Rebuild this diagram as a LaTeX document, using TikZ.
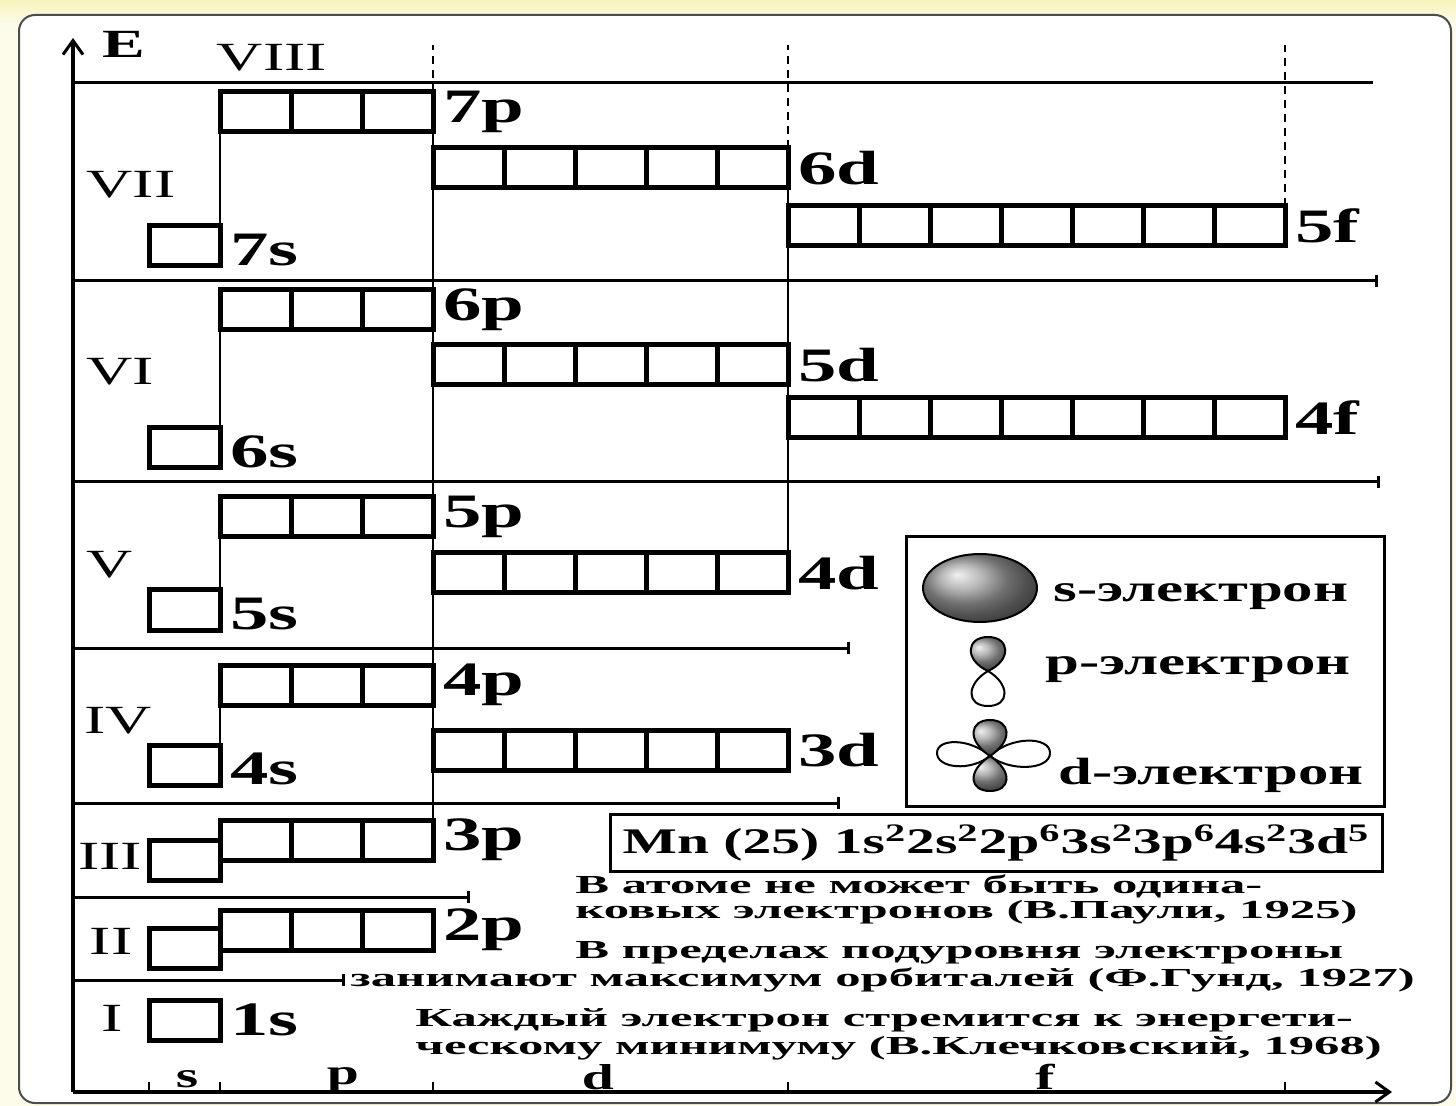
\documentclass[tikz,border=0pt]{standalone}
\usepackage{fontspec}
\setmainfont{Liberation Serif}[FakeStretch=1.6]
\newfontfamily\rulefont{Liberation Serif}[FakeStretch=1.95]
\usetikzlibrary{arrows.meta}

\definecolor{pagecream}{RGB}{253,252,234}
\definecolor{bandyellow}{RGB}{247,243,188}

\tikzset{
  cellrow/.style={draw, line width=2.5pt, minimum height=20pt, inner sep=0pt, outer sep=0pt, anchor=north west},
  cellline/.style={line width=2.5pt},
  link/.style={line width=1pt},
  level/.style={line width=1.5pt},
  levelend/.style={level, -{Bar[width=6pt,line width=1.5pt]}},
  guide/.style={line width=1.2pt, dash pattern=on 4pt off 3pt},
  axis/.style={line width=2pt},
  orb/.style={font=\fontsize{24}{26}\selectfont\bfseries, inner sep=5pt, anchor=west},
  period/.style={font=\fontsize{20}{22}\selectfont},
  sublabel/.style={font=\fontsize{18}{20}\selectfont\bfseries, anchor=base, inner sep=0pt},
  legendtxt/.style={font=\fontsize{19}{21}\selectfont\bfseries, inner sep=0pt, anchor=west},
  rule/.style={font=\rulefont\fontsize{13}{15}\selectfont\bfseries, inner sep=0pt, anchor=west},
  lobe/.style={line width=1pt, ball color=gray!75},
  openlobe/.style={line width=1pt, fill=white},
}

% row of #4 cells, 71 wide and 40 high, top left corner at (#2,#3)
\newcommand{\orbrow}[4]{%
  \node[cellrow, minimum width=#4*35.5pt] (#1) at (#2,#3) {};
  \foreach \k in {2,...,#4}
    \draw[cellline] (#1.north west) ++({(\k-1)*71},0) -- ++(0,40);
}

\begin{document}
\begin{tikzpicture}[x=0.5pt, y=-0.5pt]
  \useasboundingbox (0,0) rectangle (1456,1106);
  \fill[pagecream] (0,0) rectangle (1456,1106);
  \shade[top color=bandyellow, bottom color=pagecream] (0,0) rectangle (1456,24);
  \draw[gray!60!black, line width=1pt, fill=white, rounded corners=8pt] (19,15) rectangle (1451,1103);

  % axes
  \draw[axis, -{Straight Barb[length=7pt,width=10pt,line width=1.5pt]}] (73,1092) -- (73,38);
  \draw[axis, -{Straight Barb[length=7pt,width=10pt,line width=1.5pt]}] (73,1092) -- (1392,1092);
  \node[font=\fontsize{20}{22}\selectfont\bfseries] (E) at (124,44) {E};
  \foreach \x in {149,220,433,788,1285}
    \draw[line width=1.2pt] (\x,1092) -- (\x,1082);
  \node[sublabel] (axs) at (187,1087) {s};
  \node[sublabel] (axp) at (343,1084) {p};
  \node[sublabel] (axd) at (598,1089) {d};
  \node[sublabel] (axf) at (1045,1089) {f};

  % period boundaries
  \draw[level] (73,83) -- (1373,83);
  \draw[levelend] (73,281) -- (1378,281);
  \draw[levelend] (73,482) -- (1380,482);
  \draw[levelend] (73,648) -- (850,648);
  \draw[levelend] (73,803) -- (840,803);
  \draw[levelend] (73,897) -- (470,897);
  \draw[levelend] (73,980) -- (345,980);

  % period numbers
  \node[period] (pVIII) at (272,58) {VIII};
  \node[period] (pVII) at (131,185) {VII};
  \node[period] (pVI) at (120,372) {VI};
  \node[period] (pV) at (110,565) {V};
  \node[period] (pIV) at (118,721) {IV};
  \node[period] (pIII) at (110,856) {III};
  \node[period] (pII) at (111,941) {II};
  \node[period] (pI) at (112,1018) {I};

  % sublevels
  \node[cellrow, minimum width=35.5pt] (s7) at (149,226) {};
  \orbrow{p7}{220}{92}{3}
  \orbrow{d6}{433}{148}{5}
  \orbrow{f5}{788}{206}{7}

  \node[cellrow, minimum width=35.5pt] (s6) at (149,428) {};
  \orbrow{p6}{220}{290}{3}
  \orbrow{d5}{433}{345}{5}
  \orbrow{f4}{788}{398}{7}

  \node[cellrow, minimum width=35.5pt] (s5) at (149,590) {};
  \orbrow{p5}{220}{497}{3}
  \orbrow{d4}{433}{553}{5}

  \node[cellrow, minimum width=35.5pt] (s4) at (149,745) {};
  \orbrow{p4}{220}{665}{3}
  \orbrow{d3}{433}{730}{5}

  \node[cellrow, minimum width=35.5pt] (s3) at (149,840) {};
  \orbrow{p3}{220}{820}{3}

  \node[cellrow, minimum width=35.5pt] (s2) at (149,928) {};
  \orbrow{p2}{220}{910}{3}

  \node[cellrow, minimum width=35.5pt] (s1) at (149,1000) {};

  % filling order
  \foreach \n in {4,...,7}
    \draw[link] (s\n.north east) -- (p\n.south west);
  \draw[link] (p3.north east) -- (d3.south west);
  \foreach \n/\m in {3/4,4/5,5/6}
    \draw[link] (d\n.north west) -- (p\m.south east) (p\m.north east) -- (d\m.south west);
  \draw[link] (d6.north west) -- (p7.south east);
  \draw[link] (d4.north east) -- (f4.south west);
  \draw[link] (f4.north west) -- (d5.south east);
  \draw[link] (d5.north east) -- (f5.south west);
  \draw[link] (f5.north west) -- (d6.south east);

  \coordinate (top) at (0,45);
  \draw[guide] (p7.north east) -- (p7.north east |- top);
  \draw[guide] (d6.north east) -- (d6.north east |- top);
  \draw[guide] (f5.north east) -- (f5.north east |- top);

  % sublevel names
  \node[orb] (l7p) at (p7.east) {7p};
  \node[orb] (l6d) at (d6.east) {6d};
  \node[orb] (l5f) at (f5.east) {5f};
  \node[orb] (l7s) at ([yshift=-2pt]s7.east) {7s};
  \node[orb] (l6p) at (p6.east) {6p};
  \node[orb] (l5d) at (d5.east) {5d};
  \node[orb] (l4f) at (f4.east) {4f};
  \node[orb] (l6s) at ([yshift=-2pt]s6.east) {6s};
  \node[orb] (l5p) at (p5.east) {5p};
  \node[orb] (l4d) at (d4.east) {4d};
  \node[orb] (l5s) at ([yshift=-2pt]s5.east) {5s};
  \node[orb] (l4p) at (p4.east) {4p};
  \node[orb] (l3d) at (d3.east) {3d};
  \node[orb] (l4s) at ([yshift=-2pt]s4.east) {4s};
  \node[orb] (l3p) at (p3.east) {3p};
  \node[orb] (l2p) at (p2.east) {2p};
  \node[orb] (l1s) at (s1.east) {1s};

  % legend
  \node[draw, line width=1.5pt, minimum width=239pt, minimum height=135pt, anchor=north west] (legend) at (905,535) {};
  \shadedraw[lobe] (980,588) ellipse [x radius=57, y radius=34];
  \shadedraw[lobe] (988,671) .. controls (964,660) and (966,637) .. (988,637)
    .. controls (1010,637) and (1012,660) .. (988,671) -- cycle;
  \draw[openlobe] (988,671) .. controls (966,684) and (966,706) .. (988,706)
    .. controls (1010,706) and (1010,684) .. (988,671) -- cycle;
  \draw[openlobe] (990,756) .. controls (970,738) and (937,738) .. (937,753)
    .. controls (937,768) and (970,772) .. (990,756) -- cycle;
  \draw[openlobe] (990,756) .. controls (1010,736) and (1050,736) .. (1050,753)
    .. controls (1050,770) and (1010,772) .. (990,756) -- cycle;
  \shadedraw[lobe] (990,756) .. controls (966,740) and (970,720) .. (990,720)
    .. controls (1010,720) and (1014,740) .. (990,756) -- cycle;
  \shadedraw[lobe] (990,756) .. controls (966,772) and (970,791) .. (990,791)
    .. controls (1010,791) and (1014,772) .. (990,756) -- cycle;
  \node[legendtxt] (ls) at (1053,597) {s-электрон};
  \node[legendtxt] (lp) at (1045,670) {p-электрон};
  \node[legendtxt] (ld) at (1058,775) {d-электрон};

  % configuration of manganese
  \node[draw, line width=1.5pt, minimum width=386pt, minimum height=28.5pt, inner sep=2pt,
    font=\fontsize{18}{20}\selectfont\bfseries] (mn) at (996,843)
    {Mn (25) 1s\textsuperscript{2}2s\textsuperscript{2}2p\textsuperscript{6}3s\textsuperscript{2}3p\textsuperscript{6}4s\textsuperscript{2}3d\textsuperscript{5}};

  % rules
  \node[rule] (pauli1) at (575,886) {В атоме не может быть одина-};
  \node[rule] (pauli2) at (575,912) {ковых электронов (В.Паули, 1925)};
  \node[rule] (hund1) at (575,953) {В пределах подуровня электроны};
  \node[rule] (hund2) at (350,980) {занимают максимум орбиталей (Ф.Гунд, 1927)};
  \node[rule] (klech1) at (415,1020) {Каждый электрон стремится к энергети-};
  \node[rule] (klech2) at (415,1048) {ческому минимуму (В.Клечковский, 1968)};
\end{tikzpicture}
\end{document}
